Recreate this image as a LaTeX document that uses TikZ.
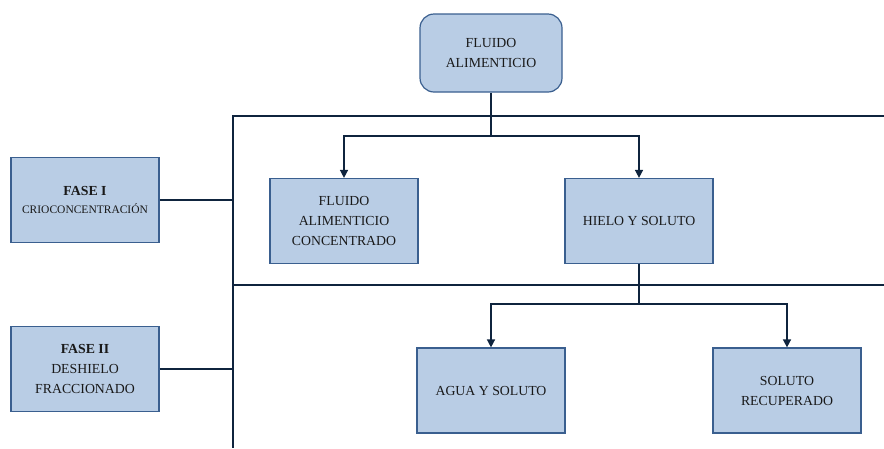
\documentclass[tikz,border=0pt]{standalone}
\usepackage{fontspec}
\setmainfont{Liberation Serif}
\usetikzlibrary{arrows.meta}
\definecolor{boxfill}{HTML}{B9CDE5}
\definecolor{boxdraw}{HTML}{3A5F8F}
\definecolor{linec}{HTML}{0F243E}
\begin{document}
\begin{tikzpicture}[x=1pt,y=-1pt,
  box/.style={draw=boxdraw,fill=boxfill,line width=1.2pt,minimum width=148pt,minimum height=85pt,align=center,inner sep=2pt,font=\fontsize{13.8}{20}\selectfont,text=black!90},
  conn/.style={draw=linec,line width=1.5pt},
  arr/.style={draw=linec,line width=1.5pt,-{Triangle[length=8pt,width=8pt]}},
  frame/.style={draw=linec,line width=2pt}]
\useasboundingbox (0,0) rectangle (884,448);
\node[box,rounded corners=14pt,minimum width=142pt,minimum height=78pt] (top) at (491,53) {FLUIDO\\ALIMENTICIO};
\node[box] (fac) at (344,221) {FLUIDO\\ALIMENTICIO\\CONCENTRADO};
\node[box] (hys) at (639,221) {HIELO Y SOLUTO};
\node[box] (ays) at (491,390.5) {AGUA Y SOLUTO};
\node[box] (sr) at (787,390.5) {SOLUTO\\RECUPERADO};
\node[box] (f1) at (85,200) {\textbf{FASE I}\\[-2pt]{\fontsize{11.5}{16}\selectfont CRIOCONCENTRACIÓN}};
\node[box] (f2) at (85,369) {\textbf{FASE II}\\DESHIELO\\FRACCIONADO};
\coordinate (vt) at (233,116);
\coordinate (vb) at (233,448);
\coordinate (h1r) at (884,116);
\coordinate (h2l) at (233,285);
\coordinate (h2r) at (884,285);
\draw[frame] (h1r) -- (vt) -- (vb);
\draw[frame] (h2l) -- (h2r);
\draw[frame] (f1.east) -- (f1.east -| vt);
\draw[frame] (f2.east) -- (f2.east -| vt);
\coordinate (j1) at (491,136);
\coordinate (j2) at (639,304);
\draw[conn] (top.south) -- (j1);
\draw[arr] (j1) -| (fac.north);
\draw[arr] (j1) -| (hys.north);
\draw[conn] (hys.south) -- (j2);
\draw[arr] (j2) -| (ays.north);
\draw[arr] (j2) -| (sr.north);
\end{tikzpicture}
\end{document}
